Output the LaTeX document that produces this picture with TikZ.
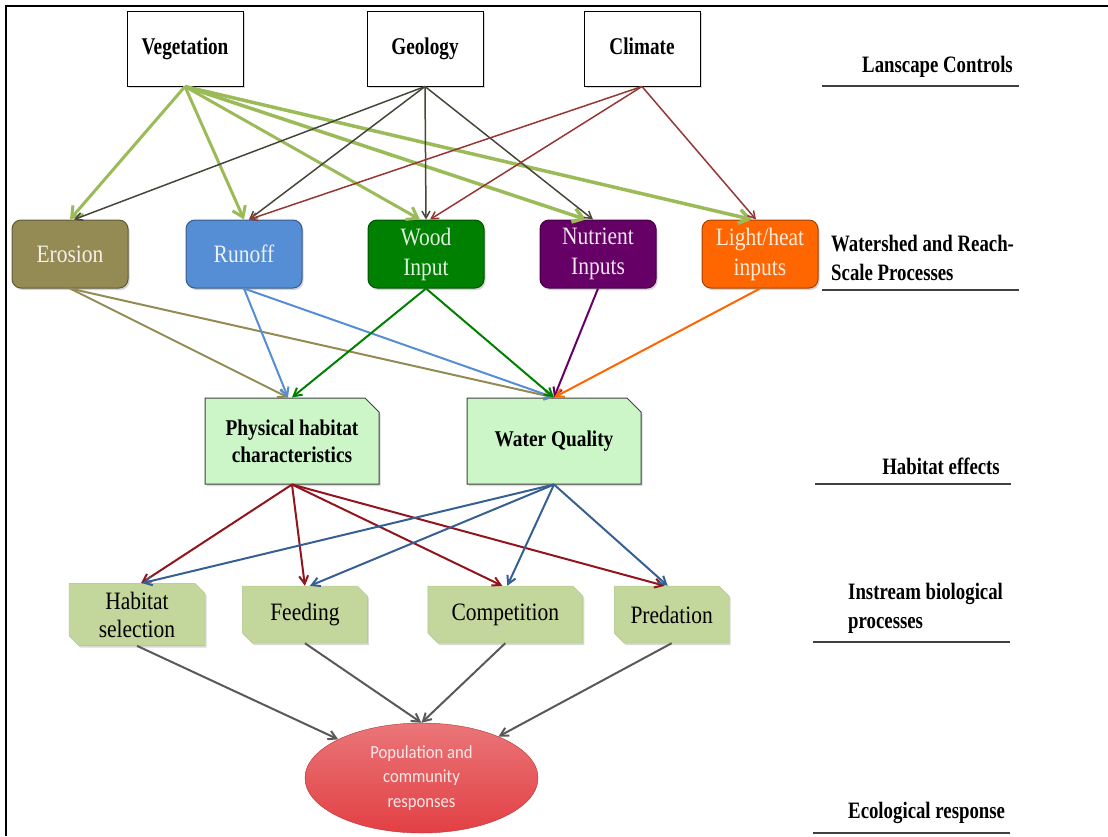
\documentclass[tikz,border=0pt]{standalone}
\usepackage{fontspec}
\setmainfont[FakeStretch=0.86]{Liberation Serif}
\newfontfamily\lblfont[FakeStretch=0.8]{Liberation Serif}
\newfontfamily\popfont[FakeStretch=0.9]{Carlito}
\usetikzlibrary{positioning,arrows.meta,shapes.geometric,shapes.misc,shadows}
\definecolor{vegcol}{RGB}{155,187,89}
\definecolor{geocol}{RGB}{72,70,56}
\definecolor{climcol}{RGB}{149,55,53}
\definecolor{erocol}{RGB}{148,138,84}
\definecolor{runcol}{RGB}{85,142,213}
\definecolor{woodcol}{RGB}{0,128,0}
\definecolor{nutcol}{RGB}{102,0,102}
\definecolor{lightcol}{RGB}{255,102,0}
\definecolor{habcol}{RGB}{204,246,200}
\definecolor{biocol}{RGB}{195,214,155}
\definecolor{physcol}{RGB}{146,20,28}
\definecolor{watcol}{RGB}{55,96,146}
\definecolor{popcol}{RGB}{226,64,68}

\begin{document}
\begin{tikzpicture}[x=1pt, y=-1pt,
  ctrl/.style={rectangle, draw=black, line width=1pt, fill=white, minimum width=116pt, minimum height=75pt,
               text height=16pt, text depth=5pt, font=\lblfont\fontsize{24}{28}\selectfont\bfseries,
               drop shadow={opacity=0.3, shadow xshift=1.5pt, shadow yshift=-2pt}},
  proc/.style 2 args={rectangle, rounded corners=9pt, draw=#1!65!black, line width=1pt, fill=#1, text=#2,
               minimum width=116pt, minimum height=68pt, align=center, font=\fontsize{25}{30}\selectfont,
               drop shadow={opacity=0.35, shadow xshift=1.5pt, shadow yshift=-2pt}},
  habitat/.style={chamfered rectangle, chamfered rectangle corners=north east, chamfered rectangle sep=7pt,
               draw=black!75, line width=1pt, fill=habcol, minimum width=174pt, minimum height=86pt,
               align=center, font=\fontsize{22.5}{27}\selectfont\bfseries,
               drop shadow={opacity=0.3, shadow xshift=1.5pt, shadow yshift=-2pt}},
  bio/.style={chamfered rectangle, chamfered rectangle corners={north east,south west}, chamfered rectangle sep=5pt,
               fill=biocol, draw=biocol!90!black, minimum height=57pt, align=center,
               font=\fontsize{25}{28}\selectfont,
               drop shadow={opacity=0.3, shadow xshift=1.5pt, shadow yshift=-2pt}},
  resp/.style={ellipse, draw=popcol!80!black, top color=popcol!72!white, bottom color=popcol,
               minimum width=233pt, minimum height=110pt, align=center, text=popcol!12,
               font=\popfont\fontsize{18.5}{24.5}\selectfont},
  layer/.style={inner sep=0pt, align=left, font=\lblfont\fontsize{23.5}{29}\selectfont\bfseries},
  rule/.style={line width=1.5pt, black!75},
  vegline/.style={-{Straight Barb[length=10pt,width=14pt]}, line width=3pt, vegcol},
  thin/.style={-{Straight Barb[length=7pt,width=8pt]}, line width=1.5pt},
  link/.style={-{Straight Barb[length=8pt,width=9pt]}, line width=2pt},
]
\useasboundingbox (0,0) rectangle (1108,836);
\draw[line width=2pt] (6,836) -- (6,6) -- (1108,6);

% landscape controls
\node[ctrl] (veg) at (185,48.5) {Vegetation};
\node[ctrl, right=123pt of veg] (geo) {Geology};
\node[ctrl, right=100pt of geo] (clim) {Climate};

% watershed and reach-scale processes
\node[proc={erocol}{erocol!12}] (erosion) at (70,254) {Erosion};
\node[proc={runcol}{runcol!12}, right=57pt of erosion] (runoff) {Runoff};
\node[proc={woodcol}{woodcol!12}, right=65pt of runoff] (wood) {Wood\\Input};
\node[proc={nutcol}{nutcol!10}, right=55pt of wood] (nutrient) {Nutrient\\Inputs};
\node[proc={lightcol}{lightcol!12}, right=45pt of nutrient] (light) {Light/heat\\inputs};

% habitat effects
\node[habitat] (phys) at (292,441) {Physical habitat\\characteristics};
\node[habitat, right=87pt of phys] (water) {Water Quality};

% instream processes
\node[bio, minimum width=136pt] (hsel) at (137,614.5) {Habitat\\selection};
\node[bio, minimum width=125pt, right=37pt of hsel] (feed) {Feeding};
\node[bio, minimum width=155pt, right=60pt of feed] (comp) {Competition};
\node[bio, minimum width=115pt, right=31pt of comp] (pred) {Predation};

\node[resp] (pop) at (421.5,778) {Population and\\community\\responses};

% level labels
\node[layer, anchor=east] (lctrl) at (1013,67) {Lanscape Controls};
\node[layer, anchor=west] (lproc) at (831,257.5) {Watershed and Reach-\\Scale Processes};
\node[layer, anchor=east] (lhab) at (1000,466) {Habitat effects};
\node[layer, anchor=west] (lbio) at (848,608) {Instream biological\\processes};
\node[layer, anchor=west] (leco) at (848,813) {Ecological response};
\draw[rule] (822,86) -- (1019,86);
\draw[rule] (822,290) -- (1019,290);
\draw[rule] (815,484) -- (1011,484);
\draw[rule] (813,642) -- (1010,642);
\draw[rule] (813,833) -- (1010,833);

% controls -> processes
\draw[vegline] (veg.south) -- (erosion.north);
\draw[vegline] (veg.south) -- (runoff.north);
\draw[vegline] (veg.south) -- ([xshift=-6pt]wood.north);
\draw[vegline, line width=3.5pt] (veg.south) -- ([xshift=-12pt]nutrient.north);
\draw[vegline, line width=3.5pt] (veg.south) -- ([xshift=-8pt]light.north);
\draw[thin, geocol] (geo.south) -- ([xshift=4pt]erosion.north);
\draw[thin, geocol] (geo.south) -- ([xshift=5pt]runoff.north);
\draw[thin, geocol] (geo.south) -- (wood.north);
\draw[thin, geocol] (geo.south) -- ([xshift=-5pt]nutrient.north);
\draw[thin, climcol] (clim.south) -- ([xshift=5pt]runoff.north);
\draw[thin, climcol] (clim.south) -- ([xshift=4pt]wood.north);
\draw[thin, climcol] (clim.south) -- ([xshift=-4pt]light.north);

% processes -> habitat
\draw[link, erocol] (erosion.south) -- ([xshift=-4pt]phys.north);
\draw[link, erocol] (erosion.south) -- (water.north);
\draw[link, runcol] (runoff.south) -- ([xshift=-4pt]phys.north);
\draw[link, runcol] (runoff.south) -- (water.north);
\draw[link, woodcol] (wood.south) -- (phys.north);
\draw[link, woodcol] (wood.south) -- (water.north);
\draw[link, nutcol] (nutrient.south) -- (water.north);
\draw[link, lightcol] (light.south) -- (water.north);

% habitat -> instream
\draw[link, physcol] (phys.south) -- ([xshift=4pt]hsel.north);
\draw[link, physcol] (phys.south) -- (feed.north);
\draw[link, physcol] (phys.south) -- ([xshift=-3pt]comp.north);
\draw[link, physcol] (phys.south) -- ([xshift=-7pt]pred.north);
\draw[link, watcol] (water.south) -- ([xshift=5pt]hsel.north);
\draw[link, watcol] (water.south) -- ([xshift=5pt]feed.north);
\draw[link, watcol] (water.south) -- ([xshift=2pt]comp.north);
\draw[link, watcol] (water.south) -- ([xshift=-4pt]pred.north);

% instream -> response
\draw[link, black!65] (hsel.south) -- (pop);
\draw[link, black!65] (feed.south) -- (pop.north);
\draw[link, black!65] (comp.south) -- (pop.north);
\draw[link, black!65] (pred.south) -- (pop);
\end{tikzpicture}
\end{document}
